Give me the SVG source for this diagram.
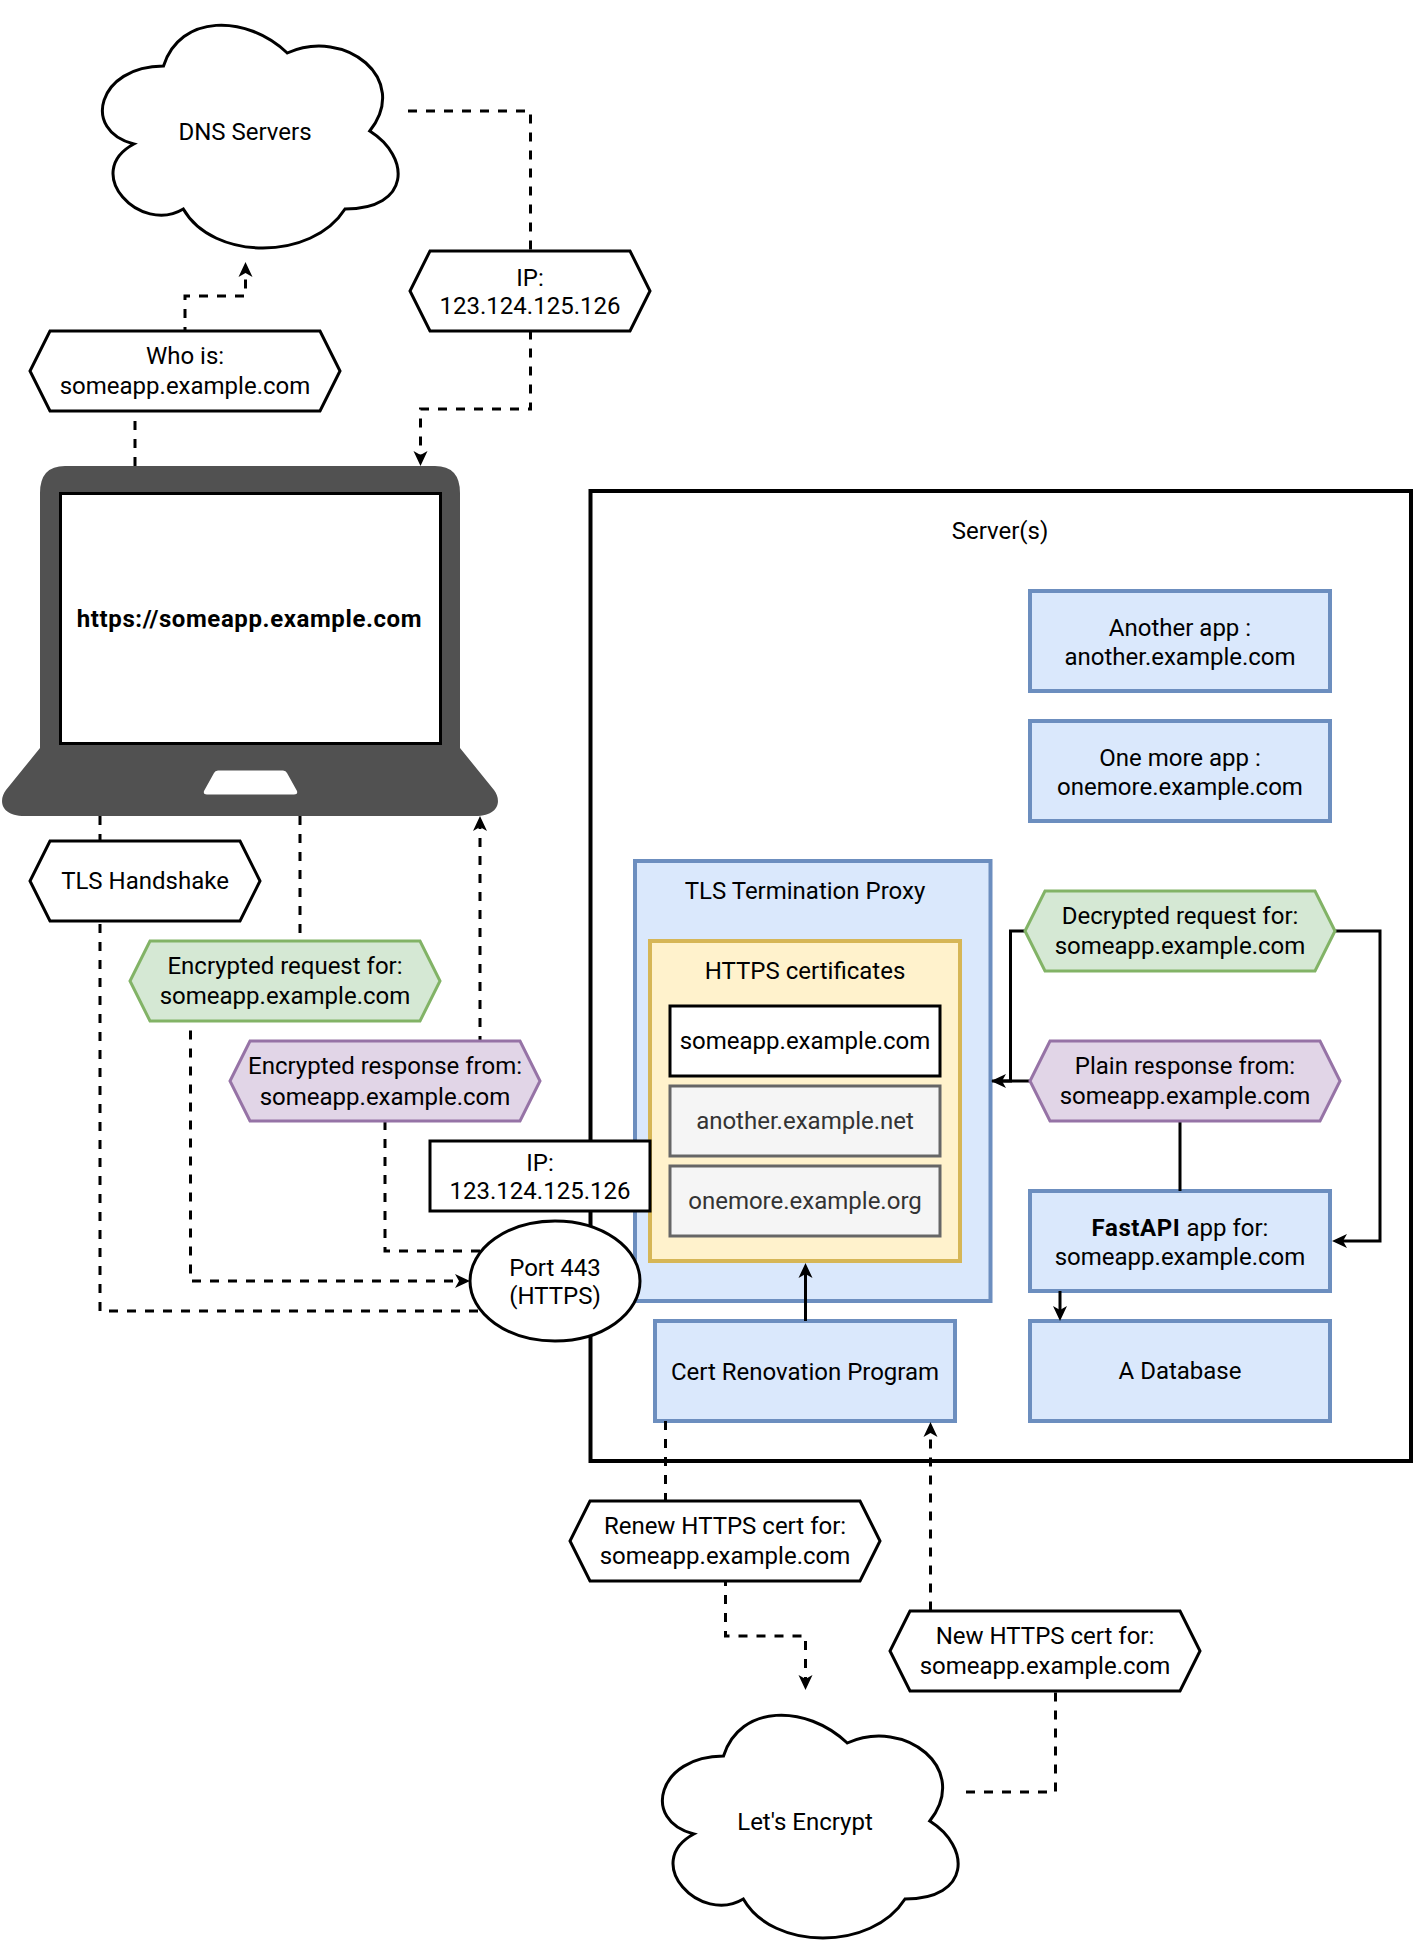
<svg xmlns="http://www.w3.org/2000/svg" width="1413" height="1953" viewBox="0 0 1413 1953">
<style>
text{font-family:Roboto,"Liberation Sans",sans-serif;font-size:24px;text-anchor:middle;fill:#000}
.b{font-weight:700;letter-spacing:.6px}
.blue{fill:#dae8fc;stroke:#6c8ebf;stroke-width:4}
.yel{fill:#fff2cc;stroke:#d6b656;stroke-width:4}
.grey{fill:#f5f5f5;stroke:#666;stroke-width:3}
.wht{fill:#fff;stroke:#000;stroke-width:3}
.grn{fill:#d5e8d4;stroke:#82b366;stroke-width:3}
.pur{fill:#e1d5e7;stroke:#9673a6;stroke-width:3}
.c{fill:none;stroke:#000;stroke-width:3}
.d{stroke-dasharray:9 9}
.a{marker-end:url(#arrow)}
.t3{fill:#333}
</style>
<defs>
<marker id="arrow" markerUnits="userSpaceOnUse" markerWidth="22" markerHeight="18" viewBox="0 0 22 18" refX="10" refY="9" orient="auto"><path d="M20 9L5 2L9 9L5 16Z" fill="#000"/></marker>
<path id="cloud" d="M82.5 65C16.5 65 0 130 52.8 143C0 171.6 59.4 234 102.3 208C132 260 231 260 264 208C330 208 330 156 288.75 130C330 78 264 26 206.25 52C165 13 99 13 82.5 65Z"/>
</defs>
<g id="server"><rect x="590.5" y="491" width="820.5" height="970" fill="#fff" stroke="#000" stroke-width="4"/><text x="1000" y="539">Server(s)</text></g>
<g id="another-app"><rect class="blue" x="1030" y="591" width="300" height="100"/><text x="1180" y="636">Another app :</text><text x="1180" y="665">another.example.com</text></g>
<g id="onemore-app"><rect class="blue" x="1030" y="721" width="300" height="100"/><text x="1180" y="766">One more app :</text><text x="1180" y="795">onemore.example.com</text></g>
<g id="proxy"><rect class="blue" x="635" y="861" width="355.5" height="440"/><text x="805" y="899">TLS Termination Proxy</text></g>
<g id="certs"><rect class="yel" x="650" y="941" width="310" height="320"/><text x="805" y="979">HTTPS certificates</text></g>
<g id="cert-someapp"><rect class="wht" x="670" y="1006" width="270" height="70"/><text x="805" y="1049">someapp.example.com</text></g>
<g id="cert-another"><rect class="grey" x="670" y="1086" width="270" height="70"/><text class="t3" x="805" y="1129">another.example.net</text></g>
<g id="cert-onemore"><rect class="grey" x="670" y="1166" width="270" height="70"/><text class="t3" x="805" y="1209">onemore.example.org</text></g>
<g id="cert-program"><rect class="blue" x="655" y="1321" width="300" height="100"/><text x="805" y="1380">Cert Renovation Program</text></g>
<g id="fastapi"><rect class="blue" x="1030" y="1191" width="300" height="100"/><text x="1180" y="1236"><tspan class="b">FastAPI</tspan> app for:</text><text x="1180" y="1265">someapp.example.com</text></g>
<g id="database"><rect class="blue" x="1030" y="1321" width="300" height="100"/><text x="1180" y="1379">A Database</text></g>
<g id="connectors">
<path class="c d a" d="M135 466V371H185V296H245.5V272"/>
<path class="c d a" d="M408 111H530.5V409H420.5V456"/>
<path class="c d" d="M100 816V1311H485"/>
<path class="c d a" d="M300 816V981H190.5V1281H460"/>
<path class="c d a" d="M480 1251H385V1081H480V826"/>
<path class="c a" d="M992 1081H1010.5V931H1380V1241H1342"/>
<path class="c a" d="M1180 1191V1081H1001"/>
<path class="c a" d="M1060 1291V1311"/>
<path class="c a" d="M805.5 1321V1273"/>
<path class="c d a" d="M665.5 1421V1541H725.5V1636H805.5V1680"/>
<path class="c d a" d="M966 1792H1055.5V1651H930.5V1432"/>
</g>
<g id="dns"><use href="#cloud" x="81" y="1" class="wht"/><text x="245" y="140">DNS Servers</text></g>
<g id="letsencrypt"><use href="#cloud" x="641" y="1691" class="wht"/><text x="805" y="1830">Let's Encrypt</text></g>
<g id="whois"><path class="wht" d="M50 331H320L340 371L320 411H50L30 371Z"/><text x="185" y="364">Who is:</text><text x="185" y="394">someapp.example.com</text></g>
<g id="ip-answer"><path class="wht" d="M430 251H630L650 291L630 331H430L410 291Z"/><text x="530" y="286">IP:</text><text x="530" y="314">123.124.125.126</text></g>
<g id="laptop"><path fill="#515151" d="M65 466H435Q460 466 460 493V748L494 790C501 799 501 816 475 816H25C-1 816 -1 799 6 790L40 748V493Q40 466 65 466Z"/><rect x="60.5" y="493.5" width="380" height="250" fill="#fff" stroke="#000" stroke-width="3"/><path fill="#fff" d="M218 770.5H283Q286 770.5 287 773L297 791Q298 794.5 294 794.5H207Q203 794.5 204 791L214 773Q215 770.5 218 770.5Z"/><text class="b" x="249.5" y="627">https://someapp.example.com</text></g>
<g id="tls-handshake"><path class="wht" d="M50 841H240L260 881L240 921H50L30 881Z"/><text x="145" y="889">TLS Handshake</text></g>
<g id="enc-request"><path class="grn" d="M150 941H420L440 981L420 1021H150L130 981Z"/><text x="285" y="974">Encrypted request for:</text><text x="285" y="1004">someapp.example.com</text></g>
<g id="enc-response"><path class="pur" d="M250 1041H520L540 1081L520 1121H250L230 1081Z"/><text x="385" y="1074">Encrypted response from:</text><text x="385" y="1105">someapp.example.com</text></g>
<g id="ip-server"><rect class="wht" x="430" y="1141" width="220" height="70"/><text x="540" y="1171">IP:</text><text x="540" y="1199">123.124.125.126</text></g>
<g id="port"><ellipse class="wht" cx="555" cy="1281" rx="85" ry="60"/><text x="555" y="1276">Port 443</text><text x="555" y="1304">(HTTPS)</text></g>
<g id="decrypted"><path class="grn" d="M1045 891H1315L1335 931L1315 971H1045L1025 931Z"/><text x="1180" y="924">Decrypted request for:</text><text x="1180" y="954">someapp.example.com</text></g>
<g id="plain"><path class="pur" d="M1050 1041H1320L1340 1081L1320 1121H1050L1030 1081Z"/><text x="1185" y="1074">Plain response from:</text><text x="1185" y="1104">someapp.example.com</text></g>
<g id="renew"><path class="wht" d="M590 1501H860L880 1541L860 1581H590L570 1541Z"/><text x="725" y="1534">Renew HTTPS cert for:</text><text x="725" y="1564">someapp.example.com</text></g>
<g id="newcert"><path class="wht" d="M910 1611H1180L1200 1651L1180 1691H910L890 1651Z"/><text x="1045" y="1644">New HTTPS cert for:</text><text x="1045" y="1674">someapp.example.com</text></g>
</svg>
